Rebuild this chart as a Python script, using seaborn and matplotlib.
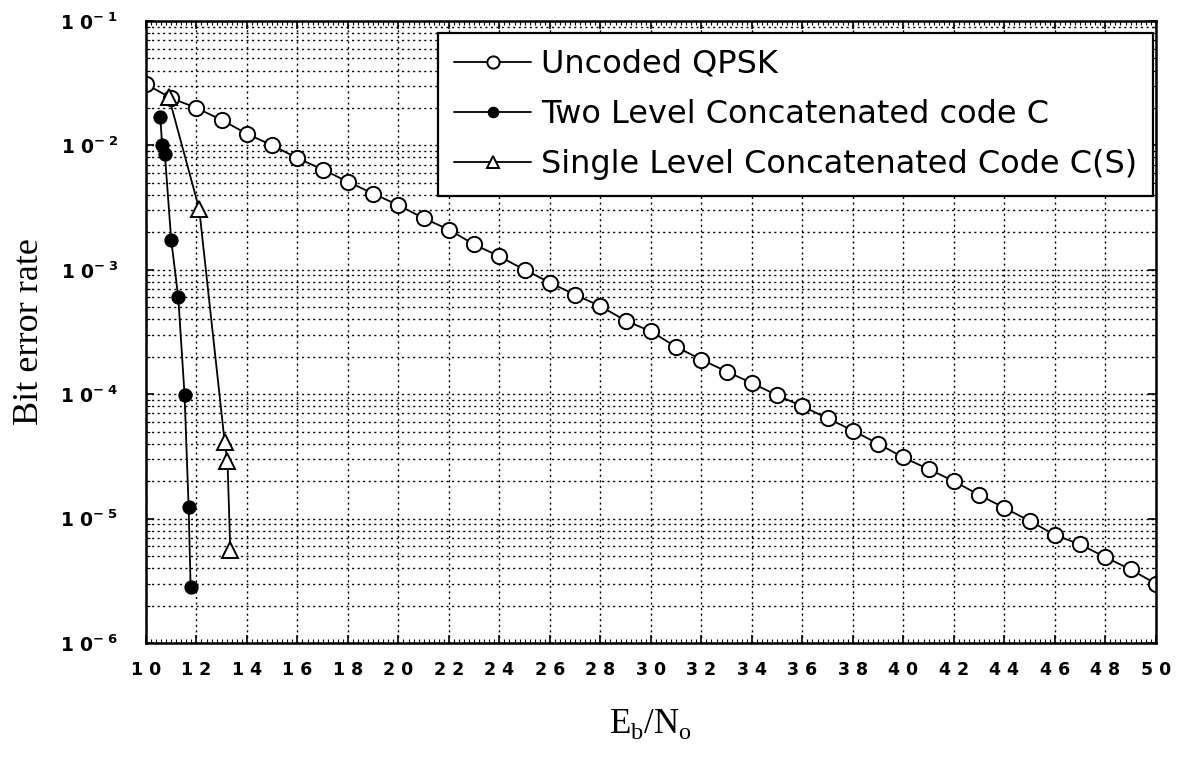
import numpy as np
import pandas as pd
import matplotlib
matplotlib.use("Agg")
import matplotlib.pyplot as plt
import seaborn as sns
from matplotlib.ticker import FixedLocator, MultipleLocator, LogLocator, NullFormatter

# Uncoded QPSK, Eb/No from 10 to 50
uncoded_x = list(range(10, 51))
uncoded_ber = [3.1e-2, 2.4e-2, 2.0e-2, 1.6e-2, 1.24e-2, 1.0e-2, 7.9e-3, 6.4e-3, 5.1e-3, 4.1e-3,
               3.3e-3, 2.6e-3, 2.1e-3, 1.6e-3, 1.28e-3, 1.0e-3, 7.9e-4, 6.3e-4, 5.1e-4, 3.9e-4,
               3.2e-4, 2.4e-4, 1.9e-4, 1.52e-4, 1.23e-4, 9.8e-5, 8.0e-5, 6.4e-5, 5.1e-5, 4.0e-5,
               3.1e-5, 2.5e-5, 2.0e-5, 1.55e-5, 1.22e-5, 9.6e-6, 7.4e-6, 6.2e-6, 4.9e-6, 3.9e-6,
               3.0e-6]

# Two level concatenated code C
two_level_x = [10.57, 10.64, 10.75, 11.0, 11.28, 11.53, 11.69, 11.77]
two_level_ber = [1.68e-2, 1.01e-2, 8.5e-3, 1.74e-3, 6.0e-4, 9.8e-5, 1.25e-5, 2.8e-6]

# Single level concatenated code C(S)
single_level_x = [10.91, 12.11, 13.12, 13.23, 13.34]
single_level_ber = [2.44e-2, 3.07e-3, 4.1e-5, 2.9e-5, 5.6e-6]

x_ticks = list(range(10, 51, 2))
x_tick_labels = [" ".join(str(t)) for t in x_ticks]
y_ticks = [1e-6, 1e-5, 1e-4, 1e-3, 1e-2, 1e-1]
y_tick_labels = [r"$\mathbf{1\ 0^{-\ %d}}$" % k for k in [6, 5, 4, 3, 2, 1]]

sns.set_style("ticks")
plt.rcParams["font.family"] = ["DejaVu Sans"]
plt.rcParams["text.color"] = "black"
plt.rcParams["axes.labelcolor"] = "black"
plt.rcParams["xtick.color"] = "black"
plt.rcParams["ytick.color"] = "black"

fig = plt.figure(figsize=(11.77, 7.58), dpi=100)
ax = fig.add_axes([0.124, 0.1517, 0.858, 0.8206])

sns.lineplot(x=uncoded_x, y=uncoded_ber, ax=ax, color="black", lw=1.3,
             marker="o", markersize=11, markerfacecolor="white",
             markeredgecolor="black", markeredgewidth=1.4, label="Uncoded QPSK")
sns.lineplot(x=two_level_x, y=two_level_ber, ax=ax, color="black", lw=1.3,
             marker="o", markersize=9.5, markerfacecolor="black",
             markeredgecolor="black", label="Two Level Concatenated code C",
             sort=False)
sns.lineplot(x=single_level_x, y=single_level_ber, ax=ax, color="black", lw=1.3,
             marker="^", markersize=11, markerfacecolor="white",
             markeredgecolor="black", markeredgewidth=1.4,
             label="Single Level Concatenated Code C(S)", sort=False)

ax.set_yscale("log")
ax.set_xlim(10, 50)
ax.set_ylim(1e-6, 1e-1)

ax.xaxis.set_major_locator(FixedLocator(x_ticks))
ax.set_xticklabels(x_tick_labels, fontsize=12.5, fontweight="bold")
ax.xaxis.set_minor_locator(MultipleLocator(0.2))
ax.yaxis.set_major_locator(FixedLocator(y_ticks))
ax.set_yticklabels(y_tick_labels, fontsize=13.5)
ax.yaxis.set_minor_locator(LogLocator(base=10, subs=np.arange(2, 10)))
ax.yaxis.set_minor_formatter(NullFormatter())

ax.tick_params(which="both", direction="in", top=True, right=True)
ax.tick_params(which="major", length=6, width=1.2)
ax.tick_params(which="minor", length=3, width=0.8)
ax.tick_params(axis="x", which="major", pad=13)
ax.tick_params(axis="y", which="major", pad=20)

ax.grid(True, axis="x", which="major", color="black", ls=(0, (1.5, 2.5)), lw=1.0)
ax.grid(True, axis="y", which="both", color="black", ls=(0, (1.5, 2.5)), lw=1.0)
for s in ax.spines.values():
    s.set_linewidth(1.8)
    s.set_color("black")

ax.set_ylabel("Bit error rate", family="Liberation Serif", fontsize=26, labelpad=10)
ax.set_xlabel(r"E$_\mathregular{b}$/N$_\mathregular{o}$", family="Liberation Serif",
              fontsize=25, labelpad=20)

leg = ax.legend(loc="upper right", bbox_to_anchor=(0.997, 0.981),
                fontsize=23, frameon=True, fancybox=False,
                edgecolor="black", framealpha=1, markerscale=0.8,
                handlelength=2.4, borderaxespad=0, borderpad=0.5,
                labelspacing=0.6, handletextpad=0.3)
leg.get_frame().set_linewidth(1.6)

fig.savefig("out.png", dpi=100)
